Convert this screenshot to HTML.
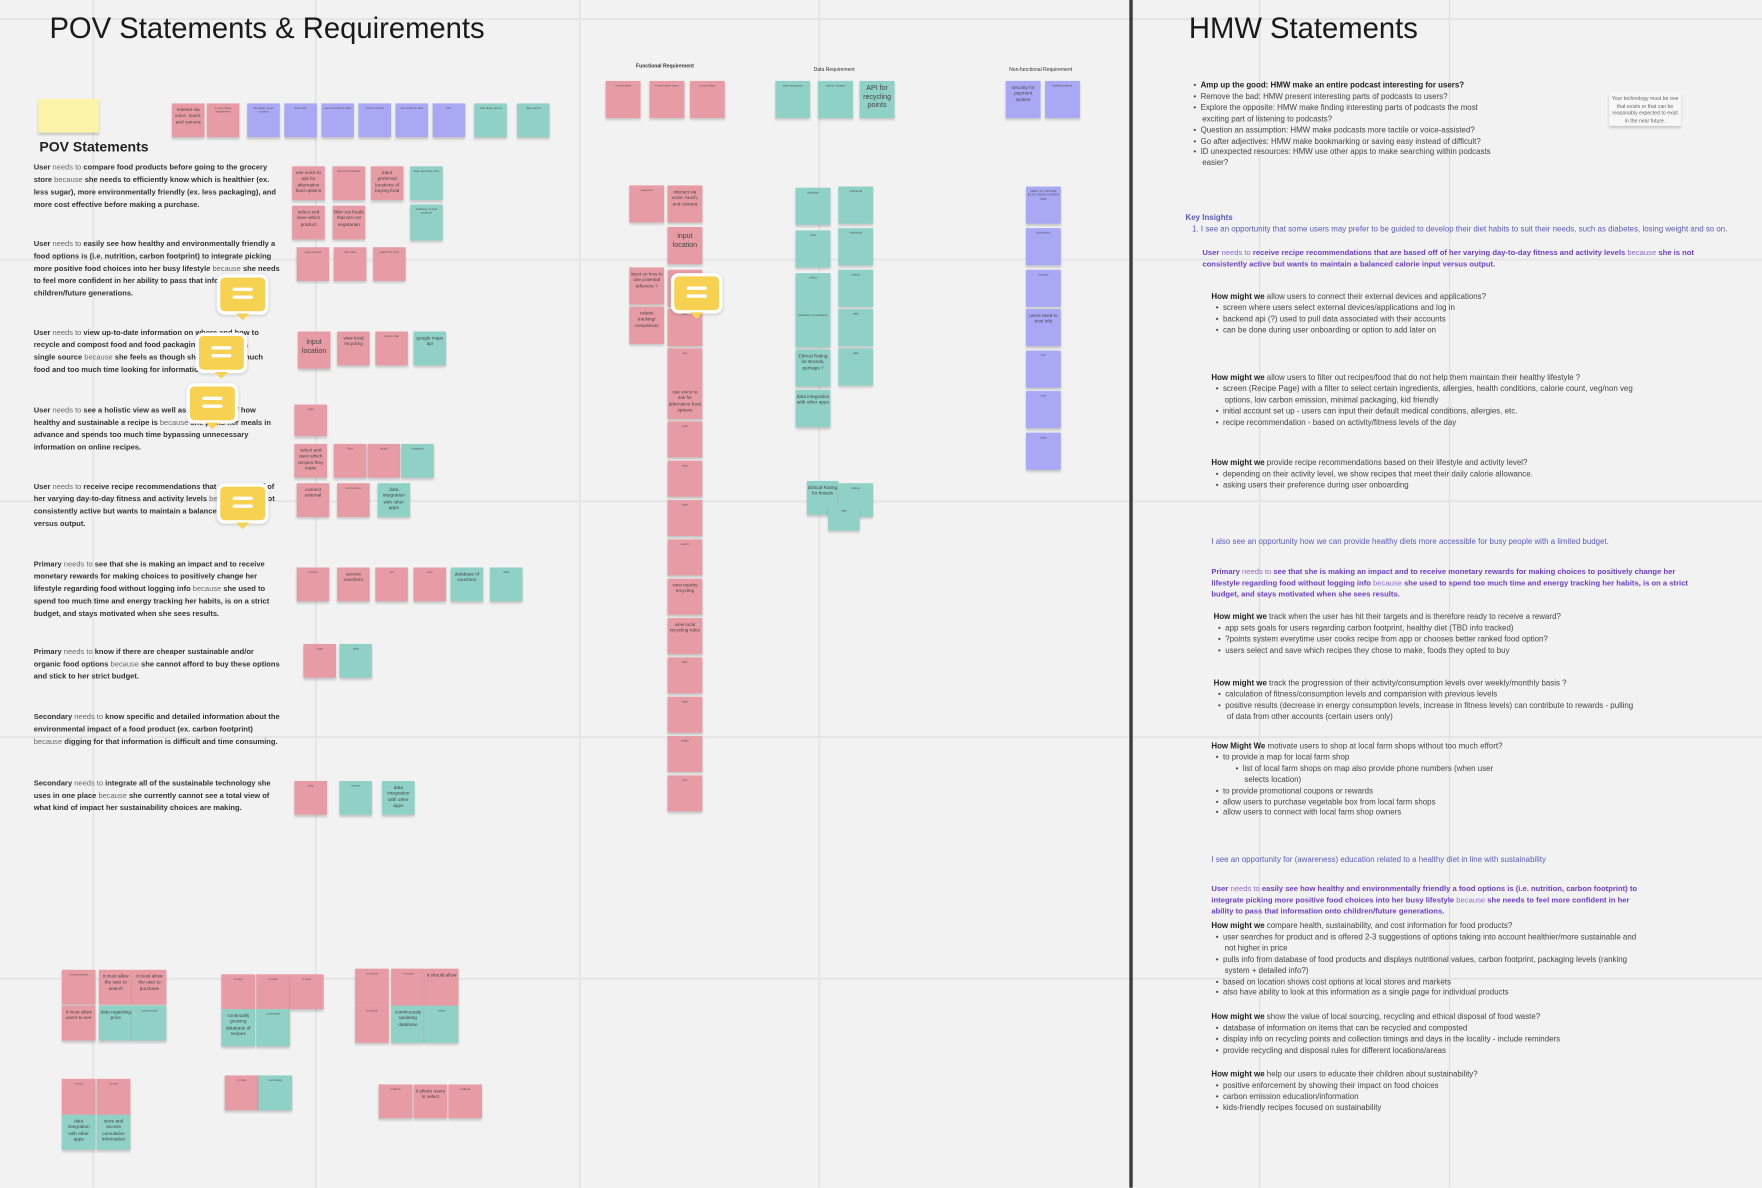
<!DOCTYPE html>
<html><head><meta charset="utf-8">
<style>
html,body{margin:0;padding:0;background:#f2f2f2;overflow:hidden}
#c{position:absolute;left:0;top:0;width:1568px;height:1057px;transform:scale(1.12372);transform-origin:0 0;font-family:"Liberation Sans",sans-serif;color:#333}
.gv{position:absolute;top:0;width:2px;height:1057px;background:#e6e6e6}
.gh{position:absolute;left:0;height:2px;width:1568px;background:#e6e6e6}
.s{position:absolute;width:29px;height:30px;box-shadow:0 2px 2px rgba(0,0,0,.18);font-size:2.6px;line-height:3.4px;color:#555;text-align:center;padding:3px 1px;box-sizing:border-box;overflow:hidden;word-wrap:break-word}
.p{background:#e79ca5}.u{background:#a8a8f4}.t{background:#8fd1c6}
.b{font-size:4.2px;line-height:5.3px;color:#444}
.bb{font-size:6.3px;line-height:7.5px;color:#444}
.a{position:absolute;white-space:nowrap}
.pov{position:absolute;left:30px;font-size:6.7px;line-height:11px;font-weight:bold;color:#333;white-space:nowrap}
.pov i{font-style:normal;font-weight:normal;color:#666}
.r{position:absolute;font-size:7.05px;line-height:9.9px;color:#444;white-space:nowrap}
.r b{color:#222}
.pu{color:#6b3fc9;font-weight:bold;font-size:6.8px;line-height:9.9px}
.pu i{font-style:normal;font-weight:normal;color:#8a6ad0}
.ki{color:#5a5ac0}
.cm{position:absolute;width:40px;height:30px;background:#f7d152;border:3px solid #fff;border-radius:7px;box-shadow:0 1px 3px rgba(0,0,0,.15)}
.cm:before{content:"";position:absolute;left:11px;top:9px;width:18px;height:3px;background:#fff;border-radius:2px;box-shadow:0 7px 0 #fff}
.cm:after{content:"";position:absolute;left:14px;bottom:-8px;border:6px solid transparent;border-top:6px solid #f7d152;border-bottom:0}
</style></head><body><div id="c">
<div class="gv" style="left:82px"></div><div class="gv" style="left:280px"></div><div class="gv" style="left:515px"></div><div class="gv" style="left:728px"></div><div class="gv" style="left:1120px"></div><div class="gv" style="left:1289px"></div>
<div class="gh" style="top:16px"></div><div class="gh" style="top:230px"></div><div class="gh" style="top:445px"></div><div class="gh" style="top:655px"></div><div class="gh" style="top:870px"></div>
<div style="position:absolute;left:1005px;top:0;width:3px;height:1057px;background:#3a3a3a"></div>

<div class="a" style="left:44px;top:10px;font-size:26px;color:#1a1a1a">POV Statements &amp; Requirements</div>
<div class="a" style="left:1058px;top:10px;font-size:26px;color:#1a1a1a">HMW Statements</div>

<div class="s" style="left:34px;top:88px;width:54px;height:30px;background:#fbf3a8"></div>
<div class="a" style="left:35px;top:124px;font-size:12.5px;font-weight:bold;color:#222">POV Statements</div>

<!-- top row -->
<div class="s p b" style="left:153px;top:92px">interact via voice, touch, and camera</div>
<div class="s p" style="left:184px;top:92px">it must show healthiness</div>
<div class="s u" style="left:220px;top:92px">info about users location</div>
<div class="s u" style="left:253px;top:92px">store info</div>
<div class="s u" style="left:286px;top:92px">users should be able</div>
<div class="s u" style="left:319px;top:92px">users must be</div>
<div class="s u" style="left:352px;top:92px">user must be able</div>
<div class="s u" style="left:385px;top:92px">info</div>
<div class="s t" style="left:422px;top:92px">data likely stored</div>
<div class="s t" style="left:460px;top:92px">data stored</div>

<!-- POV text -->
<div class="pov" style="top:144px">User <i>needs to</i> compare food products before going to the grocery<br>store <i>because</i> she needs to efficiently know which is healthier (ex.<br>less sugar), more environmentally friendly (ex. less packaging), and<br>more cost effective before making a purchase.</div>
<div class="pov" style="top:212px">User <i>needs to</i> easily see how healthy and environmentally friendly a<br>food options is (i.e. nutrition, carbon footprint) to integrate picking<br>more positive food choices into her busy lifestyle <i>because</i> she needs<br>to feel more confident in her ability to pass that information onto<br>children/future generations.</div>
<div class="pov" style="top:291px">User <i>needs to</i> view up-to-date information on where and how to<br>recycle and compost food and food packaging waste from a<br>single source <i>because</i> she feels as though she wastes too much<br>food and too much time looking for information.</div>
<div class="pov" style="top:360px">User <i>needs to</i> see a holistic view as well as information of how<br>healthy and sustainable a recipe is <i>because</i> she plans her meals in<br>advance and spends too much time bypassing unnecessary<br>information on online recipes.</div>
<div class="pov" style="top:428px">User <i>needs to</i> receive recipe recommendations that are based off of<br>her varying day-to-day fitness and activity levels <i>because</i> she is not<br>consistently active but wants to maintain a balanced calorie input<br>versus output.</div>
<div class="pov" style="top:497px">Primary <i>needs to</i> see that she is making an impact and to receive<br>monetary rewards for making choices to positively change her<br>lifestyle regarding food without logging info <i>because</i> she used to<br>spend too much time and energy tracking her habits, is on a strict<br>budget, and stays motivated when she sees results.</div>
<div class="pov" style="top:575px">Primary <i>needs to</i> know if there are cheaper sustainable and/or<br>organic food options <i>because</i> she cannot afford to buy these options<br>and stick to her strict budget.</div>
<div class="pov" style="top:633px">Secondary <i>needs to</i> know specific and detailed information about the<br>environmental impact of a food product (ex. carbon footprint)<br><i>because</i> digging for that information is difficult and time consuming.</div>
<div class="pov" style="top:692px">Secondary <i>needs to</i> integrate all of the sustainable technology she<br>uses in one place <i>because</i> she currently cannot see a total view of<br>what kind of impact her sustainability choices are making.</div>

<!-- POV stickies -->
<div class="s p b" style="left:260px;top:148px">use voice to ask for alternative food options</div>
<div class="s p" style="left:296px;top:148px">input 2-3 products</div>
<div class="s p b" style="left:330px;top:148px">input preferred locations of buying food</div>
<div class="s t" style="left:365px;top:148px">data regarding price</div>
<div class="s p b" style="left:260px;top:183px">select and save which product</div>
<div class="s p b" style="left:296px;top:183px">filter out foods that are not vegetarian</div>
<div class="s t" style="left:365px;top:182px;height:32px">database of food products</div>
<div class="s p" style="left:264px;top:220px">scan product</div>
<div class="s p" style="left:297px;top:220px">use voice</div>
<div class="s p" style="left:332px;top:220px">search for food</div>
<div class="s p bb" style="left:265px;top:295px;height:33px;padding-top:6px">input location</div>
<div class="s p b" style="left:300px;top:295px">view local recycling</div>
<div class="s p" style="left:334px;top:295px">view a map</div>
<div class="s t b" style="left:368px;top:295px">google maps api</div>
<div class="s p" style="left:262px;top:360px;height:28px">input</div>
<div class="s p b" style="left:262px;top:395px">select and save which recipes they make</div>
<div class="s p" style="left:297px;top:395px">filter</div>
<div class="s p" style="left:327px;top:395px">recipe</div>
<div class="s t" style="left:357px;top:395px">database</div>
<div class="s p b" style="left:264px;top:430px">connect external</div>
<div class="s p" style="left:300px;top:430px">sort recipes</div>
<div class="s t b" style="left:336px;top:430px">data integration with other apps</div>
<div class="s p" style="left:264px;top:505px">receive</div>
<div class="s p b" style="left:300px;top:505px">access vouchers</div>
<div class="s p" style="left:334px;top:505px">set</div>
<div class="s p" style="left:368px;top:505px">view</div>
<div class="s t b" style="left:401px;top:505px">database of vouchers</div>
<div class="s t" style="left:436px;top:505px">data</div>
<div class="s p" style="left:270px;top:573px">scan</div>
<div class="s t" style="left:302px;top:573px">data</div>
<div class="s p" style="left:262px;top:695px">view</div>
<div class="s t" style="left:302px;top:695px">carbon</div>
<div class="s t b" style="left:340px;top:695px">data integration with other apps</div>

<div class="cm" style="left:193px;top:244px"></div>
<div class="cm" style="left:174px;top:296px"></div>
<div class="cm" style="left:166px;top:341px"></div>
<div class="cm" style="left:193px;top:430px"></div>

<!-- Functional -->
<div class="a" style="left:566px;top:56px;font-size:4.5px;font-weight:bold">Functional Requirement</div>
<div class="s p" style="left:539px;top:72px;width:31px;height:33px">it must allow</div>
<div class="s p" style="left:578px;top:72px;width:31px;height:33px">it must allow users</div>
<div class="s p" style="left:614px;top:72px;width:31px;height:33px">it must allow</div>
<div class="s p" style="left:560px;top:165px;width:31px;height:33px">seasonal</div>
<div class="s p b" style="left:594px;top:165px;width:31px;height:33px">interact via voice, touch, and camera</div>
<div class="s p bb" style="left:594px;top:202px;width:31px;height:33px;padding-top:5px">input location</div>
<div class="s p b" style="left:560px;top:238px;width:31px;height:33px">input on how to use potential leftovers ?</div>
<div class="s p" style="left:594px;top:240px;width:31px;height:33px">scan</div>
<div class="s p b" style="left:560px;top:273px;width:31px;height:33px">calorie tracking/ comparison</div>
<div class="s p" style="left:594px;top:275px;width:31px;height:33px">scan</div>
<div class="s p" style="left:594px;top:310px;width:31px;height:33px">see</div>
<div class="s p b" style="left:594px;top:343px;width:31px;height:30px">use voice to ask for alternative food options</div>
<div class="s p" style="left:594px;top:375px;width:31px;height:32px">scan</div>
<div class="s p" style="left:594px;top:410px;width:31px;height:32px">input</div>
<div class="s p" style="left:594px;top:445px;width:31px;height:32px">input</div>
<div class="s p" style="left:594px;top:480px;width:31px;height:32px">search</div>
<div class="s p b" style="left:594px;top:515px;width:31px;height:32px">view nearby recycling</div>
<div class="s p b" style="left:594px;top:550px;width:31px;height:32px">view local recycling rules</div>
<div class="s p" style="left:594px;top:585px;width:31px;height:32px">filter</div>
<div class="s p" style="left:594px;top:620px;width:31px;height:32px">input</div>
<div class="s p" style="left:594px;top:655px;width:31px;height:32px">recipe</div>
<div class="s p" style="left:594px;top:690px;width:31px;height:32px">text</div>
<div class="cm" style="left:597px;top:243px"></div>

<!-- Data -->
<div class="a" style="left:724px;top:59px;font-size:4.5px">Data Requirement</div>
<div class="s t" style="left:690px;top:72px;width:31px;height:33px">data integration</div>
<div class="s t" style="left:728px;top:72px;width:31px;height:33px">carbon footprint</div>
<div class="s t bb" style="left:765px;top:72px;width:31px;height:33px">API for recycling points</div>
<div class="s t" style="left:708px;top:167px;width:31px;height:33px">database</div>
<div class="s t" style="left:746px;top:166px;width:31px;height:33px">nutritional</div>
<div class="s t" style="left:708px;top:205px;width:31px;height:33px">track</div>
<div class="s t" style="left:746px;top:203px;width:31px;height:33px">nutritional</div>
<div class="s t" style="left:708px;top:243px;width:31px;height:33px">collect</div>
<div class="s t" style="left:746px;top:240px;width:31px;height:33px">carbon</div>
<div class="s t" style="left:708px;top:276px;width:31px;height:33px">database of packaging</div>
<div class="s t" style="left:746px;top:275px;width:31px;height:33px">data</div>
<div class="s t b" style="left:708px;top:311px;width:31px;height:33px">Ethical Rating for Brands, perhaps ?</div>
<div class="s t" style="left:746px;top:310px;width:31px;height:33px">data</div>
<div class="s t b" style="left:708px;top:347px;width:31px;height:33px">data integration with other apps</div>
<div class="s t b" style="left:718px;top:428px;width:28px;height:30px">Ethical Rating for brands</div>
<div class="s t" style="left:746px;top:430px;width:31px;height:30px">carbon</div>
<div class="s t" style="left:737px;top:450px;width:28px;height:22px">data</div>

<!-- Non-functional -->
<div class="a" style="left:898px;top:59px;font-size:4.5px">Non-functional Requirement</div>
<div class="s u b" style="left:895px;top:72px;width:31px;height:33px">security for payment system</div>
<div class="s u" style="left:930px;top:72px;width:31px;height:33px">building intents</div>
<div class="s u" style="left:913px;top:166px;width:31px;height:33px">NEED TO CHOOSE ECHO SHOW SCREEN SIZE</div>
<div class="s u" style="left:913px;top:203px;width:31px;height:33px">information</div>
<div class="s u" style="left:913px;top:240px;width:31px;height:33px">security</div>
<div class="s u b" style="left:913px;top:275px;width:31px;height:33px">users need to trust info</div>
<div class="s u" style="left:913px;top:312px;width:31px;height:33px">info</div>
<div class="s u" style="left:913px;top:348px;width:31px;height:33px">data</div>
<div class="s u" style="left:913px;top:385px;width:31px;height:33px">data</div>

<!-- bottom clusters -->
<div class="s p" style="left:55px;top:863px;width:30px;height:31px">it must present</div>
<div class="s p b" style="left:88px;top:863px;width:30px;height:31px">it must allow the user to search</div>
<div class="s p b" style="left:118px;top:863px;width:30px;height:31px">it must allow the user to purchase</div>
<div class="s p b" style="left:55px;top:895px;width:30px;height:31px">it must allow users to see</div>
<div class="s t b" style="left:88px;top:895px;width:30px;height:31px">data regarding price</div>
<div class="s t" style="left:118px;top:895px;width:30px;height:31px">continuously</div>
<div class="s p" style="left:197px;top:867px;width:30px;height:31px">it must</div>
<div class="s p" style="left:228px;top:867px;width:30px;height:31px">it must</div>
<div class="s p" style="left:258px;top:867px;width:30px;height:31px">it must</div>
<div class="s t b" style="left:197px;top:898px;width:30px;height:33px">continually growing database of recipes</div>
<div class="s t" style="left:228px;top:898px;width:30px;height:33px">continually</div>
<div class="s p" style="left:316px;top:862px;width:30px;height:33px">it should</div>
<div class="s p" style="left:348px;top:862px;width:30px;height:33px">it should</div>
<div class="s p b" style="left:378px;top:862px;width:30px;height:33px">it should allow</div>
<div class="s p" style="left:316px;top:895px;width:30px;height:33px">it should</div>
<div class="s t b" style="left:348px;top:895px;width:30px;height:33px">continuously updating database</div>
<div class="s t" style="left:378px;top:895px;width:30px;height:33px">swipe</div>
<div class="s p" style="left:55px;top:960px;width:30px;height:32px">it must</div>
<div class="s p" style="left:86px;top:960px;width:30px;height:32px">it must</div>
<div class="s t b" style="left:55px;top:992px;width:30px;height:31px">data integration with other apps</div>
<div class="s t b" style="left:86px;top:992px;width:30px;height:31px">store and access cumulative information</div>
<div class="s p" style="left:200px;top:957px;width:30px;height:31px">it must</div>
<div class="s t" style="left:230px;top:957px;width:30px;height:31px">continually</div>
<div class="s p" style="left:337px;top:965px;width:30px;height:30px">it allows</div>
<div class="s p b" style="left:368px;top:965px;width:30px;height:30px">it allows users to select</div>
<div class="s p" style="left:399px;top:965px;width:30px;height:30px">it allows</div>

<!-- right side -->
<div class="s" style="left:1432px;top:82px;width:64px;height:30px;background:#f7f7f7;font-size:4.6px;line-height:6.5px;color:#666;padding-top:3px">Your technology must be one that exists or that can be reasonably expected to exist in the near future.</div>
<div class="r" style="left:1062px;top:72px">
&bull;&nbsp; <b>Amp up the good: HMW make an entire podcast interesting for users?</b><br>
&bull;&nbsp; Remove the bad: HMW present interesting parts of podcasts to users?<br>
&bull;&nbsp; Explore the opposite: HMW make finding interesting parts of podcasts the most<br>
&nbsp;&nbsp;&nbsp; exciting part of listening to podcasts?<br>
&bull;&nbsp; Question an assumption: HMW make podcasts more tactile or voice-assisted?<br>
&bull;&nbsp; Go after adjectives: HMW make bookmarking or saving easy instead of difficult?<br>
&bull;&nbsp; ID unexpected resources: HMW use other apps to make searching within podcasts<br>
&nbsp;&nbsp;&nbsp; easier?</div>
<div class="r ki" style="left:1055px;top:190px"><b style="color:#5a5ac0">Key Insights</b><br>&nbsp;&nbsp;&nbsp;1. I see an opportunity that some users may prefer to be guided to develop their diet habits to suit their needs, such as diabetes, losing weight and so on.</div>
<div class="r pu" style="left:1070px;top:221px">User <i>needs to</i> receive recipe recommendations that are based off of her varying day-to-day fitness and activity levels <i>because</i> she is not<br>consistently active but wants to maintain a balanced calorie input versus output.</div>
<div class="r" style="left:1078px;top:260px"><b>How might we</b> allow users to connect their external devices and applications?<br>
&nbsp;&nbsp;&bull;&nbsp; screen where users select external devices/applications and log in<br>
&nbsp;&nbsp;&bull;&nbsp; backend api (?) used to pull data associated with their accounts<br>
&nbsp;&nbsp;&bull;&nbsp; can be done during user onboarding or option to add later on</div>
<div class="r" style="left:1078px;top:332px"><b>How might we</b> allow users to filter out recipes/food that do not help them maintain their healthy lifestyle ?<br>
&nbsp;&nbsp;&bull;&nbsp; screen (Recipe Page) with a filter to select certain ingredients, allergies, health conditions, calorie count, veg/non veg<br>
&nbsp;&nbsp;&nbsp;&nbsp;&nbsp; options, low carbon emission, minimal packaging, kid friendly<br>
&nbsp;&nbsp;&bull;&nbsp; initial account set up - users can input their default medical conditions, allergies, etc.<br>
&nbsp;&nbsp;&bull;&nbsp; recipe recommendation - based on activity/fitness levels of the day</div>
<div class="r" style="left:1078px;top:408px"><b>How might we</b> provide recipe recommendations based on their lifestyle and activity level?<br>
&nbsp;&nbsp;&bull;&nbsp; depending on their activity level, we show recipes that meet their daily calorie allowance.<br>
&nbsp;&nbsp;&bull;&nbsp; asking users their preference during user onboarding</div>
<div class="r ki" style="left:1078px;top:478px">I also see an opportunity how we can provide healthy diets more accessible for busy people with a limited budget.</div>
<div class="r pu" style="left:1078px;top:505px">Primary <i>needs to</i> see that she is making an impact and to receive monetary rewards for making choices to positively change her<br>lifestyle regarding food without logging info <i>because</i> she used to spend too much time and energy tracking her habits, is on a strict<br>budget, and stays motivated when she sees results.</div>
<div class="r" style="left:1080px;top:545px"><b>How might we</b> track when the user has hit their targets and is therefore ready to receive a reward?<br>
&nbsp;&nbsp;&bull;&nbsp; app sets goals for users regarding carbon footprint, healthy diet (TBD info tracked)<br>
&nbsp;&nbsp;&bull;&nbsp; ?points system everytime user cooks recipe from app or chooses better ranked food option?<br>
&nbsp;&nbsp;&bull;&nbsp; users select and save which recipes they chose to make, foods they opted to buy</div>
<div class="r" style="left:1080px;top:604px"><b>How might we</b> track the progression of their activity/consumption levels over weekly/monthly basis ?<br>
&nbsp;&nbsp;&bull;&nbsp; calculation of fitness/consumption levels and comparision with previous levels<br>
&nbsp;&nbsp;&bull;&nbsp; positive results (decrease in energy consumption levels, increase in fitness levels) can contribute to rewards - pulling<br>
&nbsp;&nbsp;&nbsp;&nbsp;&nbsp; of data from other accounts (certain users only)</div>
<div class="r" style="left:1078px;top:660px"><b>How Might We</b> motivate users to shop at local farm shops without too much effort?<br>
&nbsp;&nbsp;&bull;&nbsp; to provide a map for local farm shop<br>
&nbsp;&nbsp;&nbsp;&nbsp;&nbsp;&nbsp;&nbsp;&nbsp;&nbsp;&nbsp; &bull;&nbsp; list of local farm shops on map also provide phone numbers (when user<br>
&nbsp;&nbsp;&nbsp;&nbsp;&nbsp;&nbsp;&nbsp;&nbsp;&nbsp;&nbsp;&nbsp;&nbsp;&nbsp;&nbsp; selects location)<br>
&nbsp;&nbsp;&bull;&nbsp; to provide promotional coupons or rewards<br>
&nbsp;&nbsp;&bull;&nbsp; allow users to purchase vegetable box from local farm shops<br>
&nbsp;&nbsp;&bull;&nbsp; allow users to connect with local farm shop owners</div>
<div class="r ki" style="left:1078px;top:761px">I see an opportunity for (awareness) education related to a healthy diet in line with sustainability</div>
<div class="r pu" style="left:1078px;top:787px">User <i>needs to</i> easily see how healthy and environmentally friendly a food options is (i.e. nutrition, carbon footprint) to<br>integrate picking more positive food choices into her busy lifestyle <i>because</i> she needs to feel more confident in her<br>ability to pass that information onto children/future generations.</div>
<div class="r" style="left:1078px;top:820px"><b>How might we</b> compare health, sustainability, and cost information for food products?<br>
&nbsp;&nbsp;&bull;&nbsp; user searches for product and is offered 2-3 suggestions of options taking into account healthier/more sustainable and<br>
&nbsp;&nbsp;&nbsp;&nbsp;&nbsp; not higher in price<br>
&nbsp;&nbsp;&bull;&nbsp; pulls info from database of food products and displays nutritional values, carbon footprint, packaging levels (ranking<br>
&nbsp;&nbsp;&nbsp;&nbsp;&nbsp; system + detailed info?)<br>
&nbsp;&nbsp;&bull;&nbsp; based on location shows cost options at local stores and markets<br>
&nbsp;&nbsp;&bull;&nbsp; also have ability to look at this information as a single page for individual products</div>
<div class="r" style="left:1078px;top:901px"><b>How might we</b> show the value of local sourcing, recycling and ethical disposal of food waste?<br>
&nbsp;&nbsp;&bull;&nbsp; database of information on items that can be recycled and composted<br>
&nbsp;&nbsp;&bull;&nbsp; display info on recycling points and collection timings and days in the locality - include reminders<br>
&nbsp;&nbsp;&bull;&nbsp; provide recycling and disposal rules for different locations/areas</div>
<div class="r" style="left:1078px;top:952px"><b>How might we</b> help our users to educate their children about sustainability?<br>
&nbsp;&nbsp;&bull;&nbsp; positive enforcement by showing their impact on food choices<br>
&nbsp;&nbsp;&bull;&nbsp; carbon emission education/information<br>
&nbsp;&nbsp;&bull;&nbsp; kids-friendly recipes focused on sustainability</div>
</div></body></html>
